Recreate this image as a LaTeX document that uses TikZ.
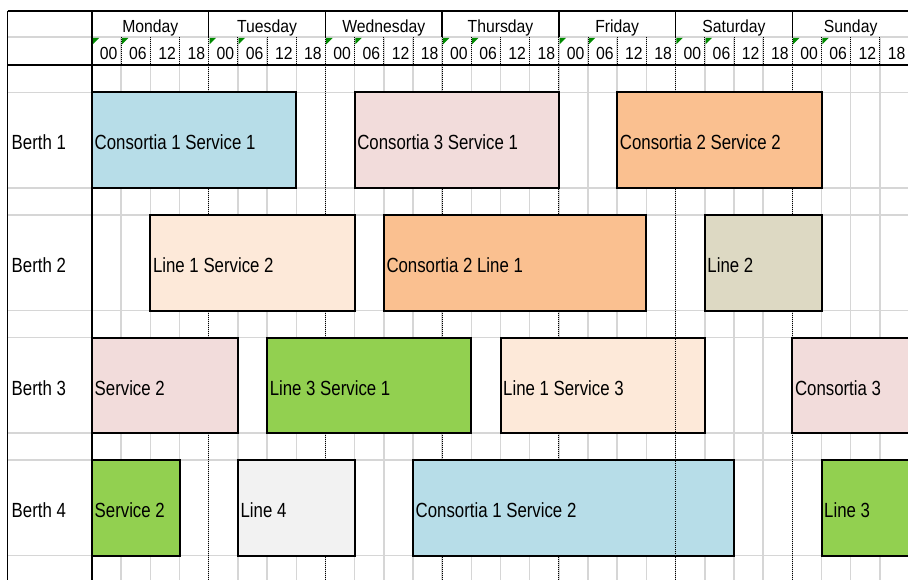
\documentclass[tikz,border=0pt]{standalone}
\usepackage{fontspec}
\newfontfamily\cellfont[FakeStretch=0.82]{Liberation Sans}
\newfontfamily\headfont[FakeStretch=0.9]{Liberation Sans}
\usetikzlibrary{calc}

\begin{document}
\begin{tikzpicture}[x=1pt,y=-1pt,
  grid line/.style={draw=gridgrey,line width=1.5pt},
  frame line/.style={draw=black,line width=1.5pt},
  day line/.style={draw=black,line width=0.9pt,dash pattern=on 1.2pt off 0.8pt},
  slot/.style={draw=black,line width=2pt},
  flag/.style={fill=flaggreen},
  cell text/.style={font=\cellfont\fontsize{20.5}{24}\selectfont,inner sep=0pt,anchor=base west},
  head text/.style={font=\headfont\fontsize{17.5}{20}\selectfont,inner sep=0pt}]
\def\cw{29.18} \def\xo{92}
\colorlet{gridgrey}{black!16}
\definecolor{flaggreen}{HTML}{008A00}
\definecolor{consblue}{HTML}{B7DDE8}
\definecolor{conspink}{HTML}{F2DCDB}
\definecolor{consorange}{HTML}{FAC090}
\definecolor{linepeach}{HTML}{FDE9D9}
\definecolor{linetan}{HTML}{DDD9C3}
\definecolor{linegreen}{HTML}{92D050}
\definecolor{linegrey}{HTML}{F2F2F2}
\useasboundingbox (0,0) rectangle (908,580);
\clip (0,0) rectangle (908,580);
% sheet grid
\foreach \k in {1,...,27}
  \draw [grid line] ({\xo+\k*\cw},37) -- ({\xo+\k*\cw},580);
\draw [grid line] (7.5,37) -- (908,37);
\draw [grid line] (7.5,92.5) -- (908,92.5);
\foreach \b in {1,...,4} {
  \pgfmathsetmacro\rowtop{92.5+122.5*(\b-1)}
  \draw [grid line] (7.5,\rowtop) -- (908,\rowtop);
  \draw [grid line] (7.5,\rowtop+95.5) -- (908,\rowtop+95.5);
}
% hour and day separators
\foreach \k in {1,...,27}
  \draw [day line] ({\xo+\k*\cw},37) -- ({\xo+\k*\cw},65);
\foreach \i in {1,...,6} {
  \draw [frame line] ({\xo+4*\i*\cw},11) -- ({\xo+4*\i*\cw},37);
  \draw [day line] ({\xo+4*\i*\cw},65) -- ({\xo+4*\i*\cw},580);
}
\draw [frame line] (7.5,11) -- (908,11);
\draw [frame line] (7.5,65) -- (908,65);
\draw [frame line] (7.5,11) -- (7.5,580);
\draw [frame line] (\xo,11) -- (\xo,580);
% header
\foreach \d [count=\i from 0] in {Monday,Tuesday,Wednesday,Thursday,Friday,Saturday,Sunday} {
  \node [head text,anchor=base] (day-\i) at ({\xo+(4*\i+2)*\cw},32.5) {\d};
  \foreach \h [count=\j from 0] in {00,06,12,18}
    \node [head text,anchor=base east] (hour-\i-\j) at ({\xo+(4*\i+\j+1)*\cw-3.5},59.5) {\h};
  \foreach \j in {0,1}
    \fill [flag] ({\xo+(4*\i+\j)*\cw+0.8},37.8) -- ++(6.5,0) -- ++(-6.5,6.5) -- cycle;
}
% berths
\foreach \b in {1,...,4}
  \node [cell text] (berth-\b) at (11.5,{92.5+122.5*(\b-1)+57.5}) {Berth \b};
% bookings: berth/first slot/last slot/colour/text
\foreach \b/\s/\e/\c/\t in {
    1/0/7/consblue/Consortia 1 Service 1,
    1/9/16/conspink/Consortia 3 Service 1,
    1/18/25/consorange/Consortia 2 Service 2,
    2/2/9/linepeach/Line 1 Service 2,
    2/10/19/consorange/Consortia 2 Line 1,
    2/21/25/linetan/Line 2,
    3/0/5/conspink/Service 2,
    3/6/13/linegreen/Line 3 Service 1,
    3/14/21/linepeach/Line 1 Service 3,
    3/24/29/conspink/Consortia 3,
    4/0/3/linegreen/Service 2,
    4/5/9/linegrey/Line 4,
    4/11/22/consblue/Consortia 1 Service 2,
    4/25/29/linegreen/Line 3} {
  \pgfmathsetmacro\rowtop{92.5+122.5*(\b-1)}
  \draw [slot,fill=\c] ({\xo+\s*\cw},\rowtop) rectangle ({\xo+\e*\cw},\rowtop+95.5);
  \node [cell text] (slot-\b-\s) at ({\xo+\s*\cw+2.5},\rowtop+57.5) {\t};
}
% Saturday line stays on top in the lower berths
\draw [day line] ({\xo+20*\cw},310.5) -- ({\xo+20*\cw},580);
\end{tikzpicture}
\end{document}
